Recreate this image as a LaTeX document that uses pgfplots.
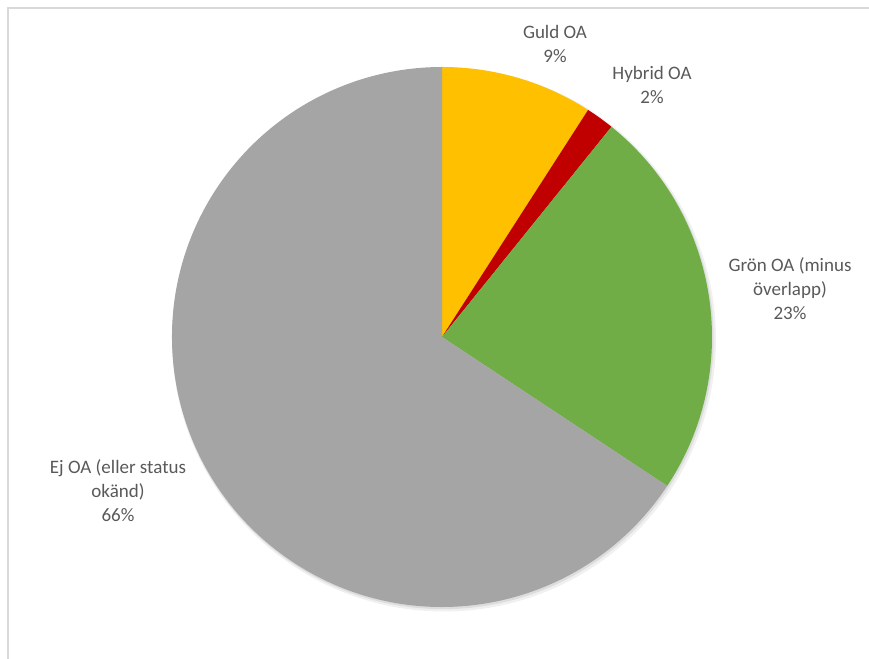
\documentclass[border=0pt]{standalone}
\usepackage{fontspec}
\setmainfont{Carlito}
\usepackage{pgfplots}
\usepackage{pgfplotstable}
\pgfplotsset{compat=1.18}
\definecolor{guld}{HTML}{FFC000}
\definecolor{hybrid}{HTML}{C00000}
\definecolor{gron}{HTML}{70AD47}
\definecolor{ej}{HTML}{A5A5A5}
\definecolor{txt}{HTML}{595959}
\definecolor{frame}{HTML}{D9D9D9}

\pgfplotstableread{
label value
Guld 9.1
Hybrid 1.7
Gron 23.5
Ej 65.7
}\piedata
\pgfplotstablegetelem{0}{value}\of\piedata \let\vA\pgfplotsretval
\pgfplotstablegetelem{1}{value}\of\piedata \let\vB\pgfplotsretval
\pgfplotstablegetelem{2}{value}\of\piedata \let\vC\pgfplotsretval
\pgfplotstablegetelem{3}{value}\of\piedata \let\vD\pgfplotsretval
\pgfmathsetmacro\aA{90}
\pgfmathsetmacro\aB{\aA-3.6*\vA}
\pgfmathsetmacro\aC{\aB-3.6*\vB}
\pgfmathsetmacro\aD{\aC-3.6*\vC}
\pgfmathsetmacro\aE{\aD-3.6*\vD}

\begin{document}
\begin{tikzpicture}
\begin{axis}[
  hide axis, scale only axis, clip=false,
  width=651.75pt, height=494.25pt,
  xmin=0, xmax=869, ymin=0, ymax=659,
]
\coordinate (ll) at (axis cs:0,0);
\coordinate (ur) at (axis cs:869,659);
% frame
\draw[frame, line width=1.5pt] (axis cs:8,0) -- (axis cs:8,651) -- (axis cs:869,651);
% shadow
\fill[black, opacity=0.06] (axis cs:444,319.5) circle[radius=204pt];
\fill[black, opacity=0.08] (axis cs:443,320.5) circle[radius=203pt];
% sectors
\fill[guld]   (axis cs:442,322) -- ++(\aA:202.5pt) arc[start angle=\aA, end angle=\aB, radius=202.5pt] -- cycle;
\fill[hybrid] (axis cs:442,322) -- ++(\aB:202.5pt) arc[start angle=\aB, end angle=\aC, radius=202.5pt] -- cycle;
\fill[gron]   (axis cs:442,322) -- ++(\aC:202.5pt) arc[start angle=\aC, end angle=\aD, radius=202.5pt] -- cycle;
\fill[ej]     (axis cs:442,322) -- ++(\aD:202.5pt) arc[start angle=\aD, end angle=\aE, radius=202.5pt] -- cycle;
% labels
\begin{scope}[every node/.style={align=center, text=txt, font=\fontsize{14.25pt}{18pt}\selectfont, inner sep=0pt}]
\node at (axis cs:555,615.5) {Guld OA\\9\%};
\node at (axis cs:652,574) {Hybrid OA\\2\%};
\node at (axis cs:790,370) {Grön OA (minus\\överlapp)\\23\%};
\node at (axis cs:118,168) {Ej OA (eller status\\okänd)\\66\%};
\end{scope}
\end{axis}
\pgfresetboundingbox
\useasboundingbox (ll) rectangle (ur);
\end{tikzpicture}
\end{document}
